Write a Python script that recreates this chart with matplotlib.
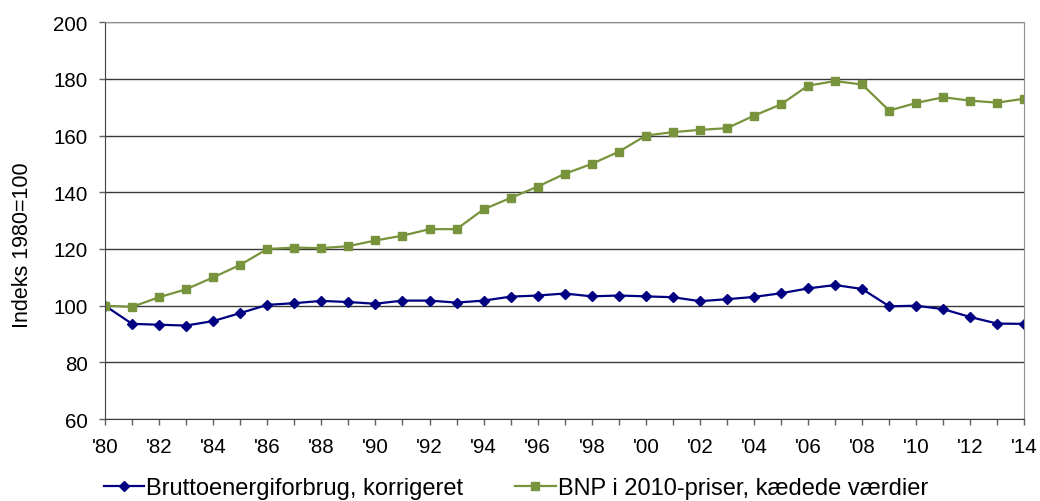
import numpy as np
import matplotlib.pyplot as plt
from matplotlib.ticker import MultipleLocator

plt.rcParams['font.family'] = ['Liberation Sans', 'DejaVu Sans']

years = np.arange(1980, 2015)
energi = [100, 93.6, 93.3, 93.0, 94.6, 97.4, 100.3, 100.9, 101.7, 101.3,
          100.7, 101.8, 101.8, 101.1, 101.8, 103.2, 103.6, 104.3, 103.3, 103.6,
          103.3, 103.0, 101.6, 102.3, 103.1, 104.4, 106.1, 107.3, 105.9, 99.8,
          100.0, 98.8, 96.0, 93.7, 93.6]
bnp = [100, 99.6, 103.0, 105.8, 110.0, 114.4, 120.0, 120.5, 120.3, 121.0,
       123.0, 124.7, 127.0, 127.0, 134.0, 138.0, 142.0, 146.5, 150.0, 154.3,
       160.0, 161.2, 162.0, 162.6, 167.0, 171.0, 177.6, 179.2, 178.0, 168.8,
       171.5, 173.5, 172.3, 171.6, 173.0]

fig = plt.figure(figsize=(10.4, 5.02), dpi=100)
ax = fig.add_axes([0.101, 0.163, 0.884, 0.791])

ax.plot(years, energi, color='#000080', marker='D', markersize=5.5, lw=1.6,
        label='Bruttoenergiforbrug, korrigeret')
ax.plot(years, bnp, color='#77933C', marker='s', markersize=6, lw=1.6,
        label='BNP i 2010-priser, kædede værdier')

ax.set_xlim(1980, 2014)
ax.set_ylim(60, 200)
ax.yaxis.set_major_locator(MultipleLocator(20))
ax.xaxis.set_minor_locator(MultipleLocator(1))
ax.set_xticks(years[::2])
ax.set_xticklabels(["'%02d" % (y % 100) for y in years[::2]])
ax.grid(axis='y', color='#383838', lw=1)
ax.set_axisbelow(True)

ax.tick_params(labelsize=14.8, length=4.5, width=1, color='#606060', direction='out', pad=8)
ax.tick_params(axis='x', which='minor', length=4.5, width=1, color='#606060')
for s in ['top', 'right']:
    ax.spines[s].set_color('#909090')
for s in ['left', 'bottom']:
    ax.spines[s].set_color('#404040')

ax.set_ylabel('Indeks 1980=100', fontsize=15.5)
ax.yaxis.set_label_coords(-0.078, 0.44)

ax.legend(loc='upper center', bbox_to_anchor=(0.447, -0.105), ncol=2, frameon=False,
          fontsize=17, handlelength=1.7, handletextpad=0.1, columnspacing=2.2,
          borderpad=0.2)

fig.savefig('out.png', dpi=100)
